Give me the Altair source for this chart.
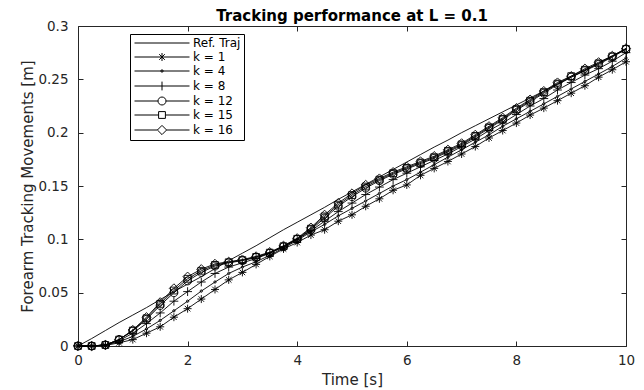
import altair as alt
import pandas as pd

chart_title = "Tracking performance at L = 0.1"

time_s = [0, 0.25, 0.5, 0.75, 1.0, 1.25, 1.5, 1.75, 2.0, 2.25, 2.5, 2.75, 3.0, 3.25, 3.5, 3.75,
          4.0, 4.25, 4.5, 4.75, 5.0, 5.25, 5.5, 5.75, 6.0, 6.25, 6.5, 6.75, 7.0, 7.25, 7.5, 7.75,
          8.0, 8.25, 8.5, 8.75, 9.0, 9.25, 9.5, 9.75, 10.0]

ref_traj = [0, 0.007, 0.0145, 0.022, 0.029, 0.036, 0.0435, 0.051, 0.058, 0.065, 0.0725, 0.080,
            0.087, 0.094, 0.1015, 0.109, 0.116, 0.123, 0.130, 0.1375, 0.1445, 0.1515, 0.1585,
            0.1655, 0.1725, 0.1795, 0.1865, 0.193, 0.200, 0.2065, 0.213, 0.2195, 0.226, 0.2325,
            0.239, 0.2455, 0.252, 0.2585, 0.265, 0.272, 0.2785]

k1 = [0, 0, 0.0005, 0.003, 0.006, 0.012, 0.018, 0.027, 0.035, 0.044, 0.053, 0.062, 0.069,
      0.0765, 0.084, 0.091, 0.097, 0.104, 0.109, 0.117, 0.123, 0.131, 0.138, 0.146, 0.151,
      0.160, 0.1665, 0.173, 0.180, 0.187, 0.195, 0.202, 0.209, 0.2165, 0.223, 0.230, 0.237,
      0.244, 0.252, 0.259, 0.2665]

k4 = [0, 0, 0.001, 0.004, 0.009, 0.016, 0.024, 0.033, 0.042, 0.0515, 0.060, 0.068, 0.074,
      0.079, 0.085, 0.092, 0.099, 0.107, 0.114, 0.122, 0.129, 0.136, 0.143, 0.150, 0.156,
      0.163, 0.170, 0.177, 0.184, 0.191, 0.198, 0.206, 0.213, 0.220, 0.227, 0.234, 0.241,
      0.248, 0.255, 0.262, 0.270]

k8 = [0, 0, 0.001, 0.005, 0.012, 0.021, 0.031, 0.042, 0.051, 0.060, 0.068, 0.074, 0.078,
      0.082, 0.087, 0.093, 0.100, 0.108, 0.117, 0.126, 0.134, 0.142, 0.149, 0.156, 0.162,
      0.168, 0.174, 0.180, 0.187, 0.194, 0.202, 0.209, 0.217, 0.225, 0.232, 0.240, 0.247,
      0.254, 0.260, 0.267, 0.275]

k12 = [0, 0, 0.001, 0.006, 0.014, 0.025, 0.038, 0.050, 0.061, 0.069, 0.075, 0.078, 0.080,
       0.083, 0.087, 0.093, 0.100, 0.109, 0.120, 0.131, 0.140, 0.148, 0.155, 0.161, 0.166,
       0.171, 0.176, 0.182, 0.188, 0.196, 0.204, 0.212, 0.221, 0.229, 0.237, 0.245, 0.252,
       0.258, 0.264, 0.271, 0.278]

k15 = [0, 0, 0.001, 0.006, 0.0145, 0.026, 0.0395, 0.052, 0.063, 0.0705, 0.076, 0.0785, 0.0805,
       0.0835, 0.0875, 0.0935, 0.1005, 0.110, 0.1215, 0.1325, 0.1415, 0.1495, 0.156, 0.162,
       0.167, 0.172, 0.177, 0.183, 0.189, 0.197, 0.205, 0.213, 0.222, 0.230, 0.238, 0.246,
       0.253, 0.259, 0.265, 0.2715, 0.2785]

k16 = [0, 0, 0.001, 0.006, 0.015, 0.027, 0.041, 0.054, 0.065, 0.072, 0.077, 0.079, 0.081,
       0.084, 0.088, 0.094, 0.101, 0.111, 0.123, 0.134, 0.143, 0.151, 0.157, 0.163, 0.168,
       0.173, 0.178, 0.184, 0.190, 0.198, 0.206, 0.214, 0.223, 0.231, 0.239, 0.247, 0.253,
       0.260, 0.266, 0.272, 0.279]

series_labels = ["Ref. Traj", "k = 1", "k = 4", "k = 8", "k = 12", "k = 15", "k = 16"]
series_values = [ref_traj, k1, k4, k8, k12, k15, k16]
k_labels = series_labels[1:]

x_ticks = [0, 2, 4, 6, 8, 10]
y_ticks = [0, 0.05, 0.1, 0.15, 0.2, 0.25, 0.3]

# marker shapes for the data points (unit box, drawn with size 64 -> 8 px)
point_paths = [
    "M-1,0L1,0M0,-1L0,1M-0.7,-0.7L0.7,0.7M-0.7,0.7L0.7,-0.7",          # asterisk
    "M-0.3,0A0.3,0.3 0 1,0 0.3,0A0.3,0.3 0 1,0 -0.3,0Z",                # point
    "M-1.1,0L1.1,0M0,-1.1L0,1.1",                                      # plus
    "M-1,0A1,1 0 1,0 1,0A1,1 0 1,0 -1,0Z",                              # circle
    "M-0.85,-0.85L0.85,-0.85L0.85,0.85L-0.85,0.85Z",                    # square
    "M0,-1.15L1.15,0L0,1.15L-1.15,0Z",                                  # diamond
]

# legend symbols (size 64 -> 4 px per unit): a line sample with the marker on it
legend_paths = [
    "M-1.125,0L12.625,0",
    "M-1.125,0L12.625,0M5.75,-1L5.75,1M5.05,-0.7L6.45,0.7M5.05,0.7L6.45,-0.7",
    "M-1.125,0L12.625,0M5.45,0A0.3,0.3 0 1,0 6.05,0A0.3,0.3 0 1,0 5.45,0Z",
    "M-1.125,0L12.625,0M5.75,-1.1L5.75,1.1",
    "M-1.125,0L4.75,0M6.75,0L12.625,0M4.75,0A1,1 0 1,0 6.75,0A1,1 0 1,0 4.75,0Z",
    "M-1.125,0L4.9,0M6.6,0L12.625,0M4.9,-0.85L6.6,-0.85L6.6,0.85L4.9,0.85Z",
    "M-1.125,0L4.6,0M6.9,0L12.625,0M5.75,-1.15L6.9,0L5.75,1.15L4.6,0Z",
]

rows = []
for lab, vals in zip(series_labels, series_values):
    for t, v in zip(time_s, vals):
        rows.append({"t": t, "value": v, "series": lab})
df = pd.DataFrame(rows)

FONT = "DejaVu Sans"
AX = "#262626"

xscale = alt.Scale(domain=[0, 10], nice=False, zero=False)
yscale = alt.Scale(domain=[0, 0.3], nice=False, zero=False)

base = alt.Chart(df)

lines = base.mark_line(color="black", strokeWidth=0.9).encode(
    x=alt.X("t:Q", scale=xscale, axis=alt.Axis(
        orient="bottom", values=x_ticks, tickSize=5, offset=-5, domain=False, grid=False,
        labelPadding=7, labelFont=FONT, labelFontSize=13.5, labelColor=AX, tickColor=AX,
        labelFlush=False, title="Time [s]", titleFont=FONT, titleFontSize=15,
        titleFontWeight="normal", titleColor=AX, titlePadding=6)),
    y=alt.Y("value:Q", scale=yscale, axis=alt.Axis(
        orient="left", values=y_ticks, tickSize=5, offset=-5, domain=False, grid=False,
        format="~g", labelPadding=10, labelFont=FONT, labelFontSize=13.5, labelColor=AX,
        tickColor=AX, labelFlush=False, title="Forearm Tracking Movements [m]",
        titleFont=FONT, titleFontSize=15, titleFontWeight="normal", titleColor=AX,
        titlePadding=2)),
    detail="series:N",
    order="t:Q",
)

points = base.transform_filter(
    alt.FieldOneOfPredicate(field="series", oneOf=k_labels)
).mark_point(filled=False, color="black", strokeWidth=0.9, opacity=1, size=64).encode(
    x=alt.X("t:Q", scale=xscale, axis=alt.Axis(
        orient="top", values=x_ticks, tickSize=5, offset=-5, domain=False, grid=False,
        labels=False, title=None, tickColor=AX, minExtent=0, maxExtent=0)),
    y=alt.Y("value:Q", scale=yscale, axis=alt.Axis(
        orient="right", values=y_ticks, tickSize=5, offset=-5, domain=False, grid=False,
        labels=False, title=None, tickColor=AX, minExtent=0, maxExtent=0)),
    shape=alt.Shape("series:N", scale=alt.Scale(domain=k_labels, range=point_paths),
                    legend=None),
)

legend_layer = base.transform_filter("false").mark_point(
    filled=False, color="black", opacity=1, size=64, strokeWidth=1
).encode(
    x=alt.X("t:Q", scale=xscale, axis=None),
    y=alt.Y("value:Q", scale=yscale, axis=None),
    shape=alt.Shape("series:N", scale=alt.Scale(domain=series_labels, range=legend_paths),
                    legend=alt.Legend(
                        orient="none", legendX=52, legendY=8, title=None, padding=3,
                        rowPadding=2, symbolSize=64, symbolStrokeColor="black",
                        symbolStrokeWidth=1, symbolFillColor="transparent", symbolOpacity=1,
                        labelFont=FONT, labelFontSize=12, labelColor="black", labelOffset=48,
                        strokeColor="black", fillColor="white", labelLimit=200)),
)

title_layer = alt.Chart(pd.DataFrame({"label": [chart_title]})).mark_text(
    font=FONT, fontSize=15, fontWeight="bold", color="black", align="center",
    baseline="alphabetic"
).encode(
    text="label:N",
    x=alt.value(274),
    y=alt.value(-5),
)

chart = alt.layer(lines, points, legend_layer, title_layer).resolve_scale(
    shape="independent"
).resolve_axis(
    x="independent", y="independent"
).properties(
    width=548, height=320,
    padding={"left": 70, "top": 18, "right": 10, "bottom": 44},
    autosize=alt.AutoSizeParams(type="none"),
).configure_view(stroke=AX, strokeWidth=1)

chart.save("out.html", embed_options={"renderer": "svg", "actions": False})
